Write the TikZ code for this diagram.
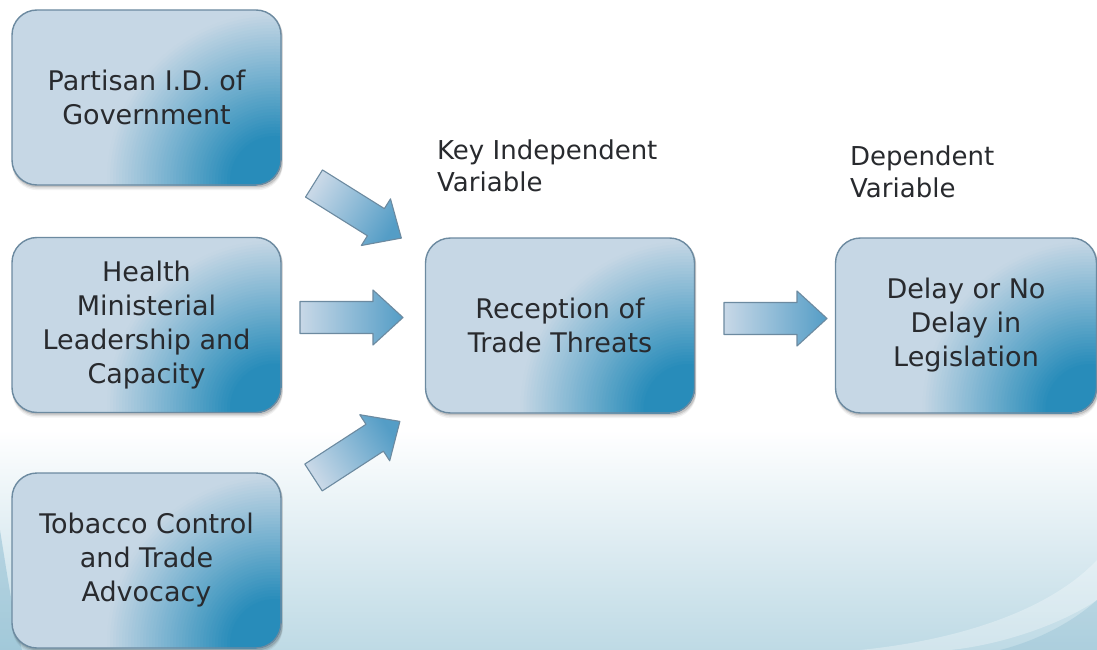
\documentclass[tikz,border=0pt]{standalone}
\usepackage{fontspec}
\newfontfamily\dvs{DejaVu Sans}
\usetikzlibrary{calc}
\definecolor{boxbase}{RGB}{198,215,229}
\definecolor{boxdark}{RGB}{40,140,186}
\definecolor{boxedge}{RGB}{108,138,160}
\definecolor{arrlight}{RGB}{200,216,231}
\definecolor{arrmid}{RGB}{168,199,222}
\definecolor{arrdark}{RGB}{84,157,198}
\definecolor{txt}{RGB}{40,42,46}
\definecolor{bgblue}{RGB}{190,218,229}
\definecolor{bgdeep}{RGB}{120,175,200}
\pgfdeclarelayer{bg}
\pgfdeclarelayer{shadow}
\pgfsetlayers{bg,shadow,main}
% #1 tail coordinate, #2 direction angle (screen, clockwise positive), #3 shading angle
\newcommand\blockarrow[3]{%
  \shade[barrow, shading=axis, top color=arrlight, middle color=arrmid, bottom color=arrdark, shading angle=#3]
    ($(#1)+(#2+90:16)$) -- ($(#1)+(#2+90:16)+(#2:73)$) -- ($(#1)+(#2+90:27.5)+(#2:73)$)
    -- ($(#1)+(#2:103)$) -- ($(#1)+(#2-90:27.5)+(#2:73)$) -- ($(#1)+(#2-90:16)+(#2:73)$)
    -- ($(#1)+(#2-90:16)$) -- cycle;}
\begin{document}
\begin{tikzpicture}[x=1pt,y=-1pt,
  vbox/.style={draw=boxedge, line width=1.4pt, rounded corners=25pt, fill=boxbase,
    minimum width=269pt, minimum height=175pt, inner sep=0pt, text=txt, align=center,
    font=\dvs\fontsize{27}{34}\selectfont,
    path picture={
      \foreach \r in {168,165,...,30}{
        \pgfmathsetmacro\p{min(100,max(0,(170-\r)*0.8))}
        \fill[boxdark!\p!boxbase] ($(path picture bounding box.south east)+(-6,-4)$) circle (\r pt);
      }}},
  lbl/.style={anchor=north west, inner sep=0pt, align=left, text=txt, font=\dvs\fontsize{26}{32}\selectfont},
  barrow/.style={draw=boxedge, line width=1.1pt, line join=round}]
\useasboundingbox (0,0) rectangle (1097,650);
\begin{pgfonlayer}{bg}
  \fill[white] (0,0) rectangle (1097,650);
  \shade[top color=white, bottom color=bgblue] (0,430) rectangle (1097,650);
  \fill[bgdeep, opacity=0.4] (0,530) .. controls (8,580) and (14,620) .. (22,650) -- (0,650) -- cycle;
  \fill[white, opacity=0.3] (860,650) .. controls (960,640) and (1050,610) .. (1097,560) -- (1097,600) .. controls (1060,625) and (1000,645) .. (950,650) -- cycle;
  \fill[bgdeep, opacity=0.25] (1000,650) .. controls (1040,640) and (1075,620) .. (1097,600) -- (1097,650) -- cycle;
\end{pgfonlayer}

\node[vbox] (b1) at (146.5,97.5) {Partisan I.D. of\\Government};
\node[vbox] (b2) at (146.5,325) {Health\\Ministerial\\Leadership and\\Capacity};
\node[vbox] (b3) at (146.5,560.5) {Tobacco Control\\and Trade\\Advocacy};
\node[vbox] (b4) at (560,325.5) {Reception of\\Trade Threats};
\node[vbox, minimum width=261pt] (b5) at (966,325.5) {Delay or No\\Delay in\\Legislation};

\node[lbl] (l1) at (437,140) {Key Independent\\Variable};
\node[lbl] (l2) at (850,146) {Dependent\\Variable};

\begin{pgfonlayer}{shadow}
  \foreach \n in {b1,b2,b3,b4,b5}{
    \foreach \s/\o in {1.5/0.12,3/0.08,4.5/0.05}{
      \fill[black, opacity=\o, rounded corners=25pt] ($(\n.north west)+(1,\s)$) rectangle ($(\n.south east)+(1,\s)$);
    }
  }
\end{pgfonlayer}

\coordinate (t1) at (314,183.5);
\coordinate (t2) at (300,317.5);
\coordinate (t3) at (313.5,477.5);
\coordinate (t4) at (724,318.5);
\blockarrow{t1}{32}{58}
\blockarrow{t2}{0}{90}
\blockarrow{t3}{-33}{123}
\blockarrow{t4}{0}{90}
\end{tikzpicture}
\end{document}
